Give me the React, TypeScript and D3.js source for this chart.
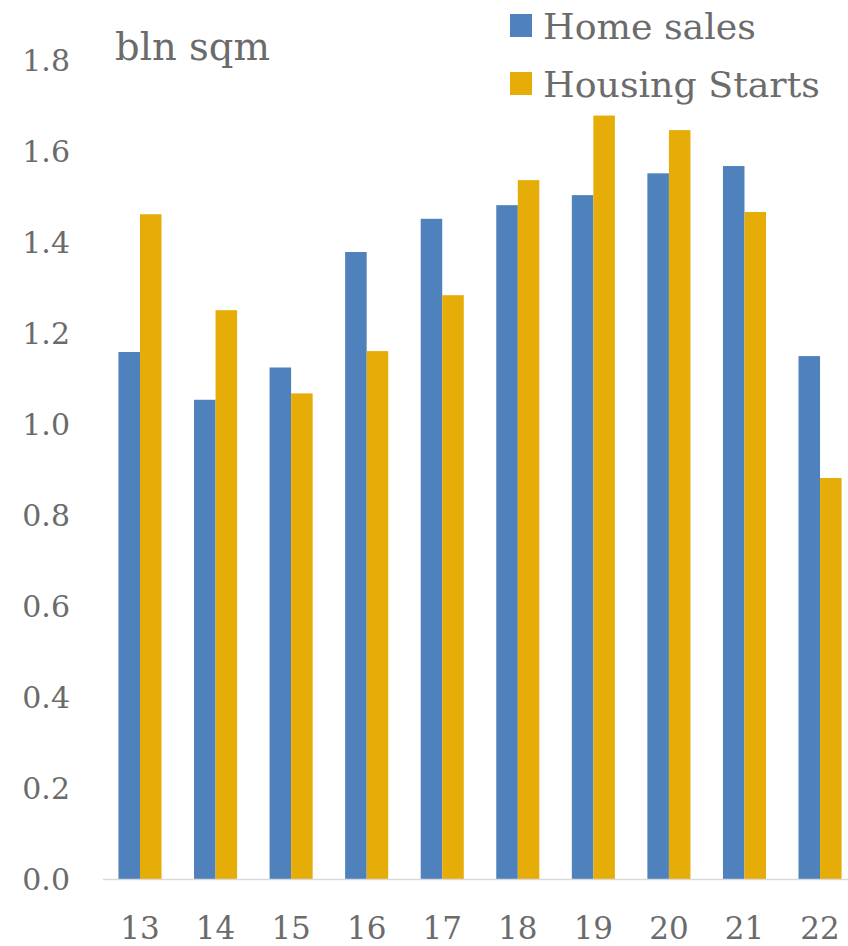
import React from "react";
import * as d3 from "d3";

const categories = ["13", "14", "15", "16", "17", "18", "19", "20", "21", "22"];
const homeSales = [1.16, 1.055, 1.126, 1.38, 1.453, 1.483, 1.505, 1.553, 1.569, 1.151];
const housingStarts = [1.463, 1.252, 1.069, 1.162, 1.285, 1.538, 1.68, 1.648, 1.468, 0.883];
const seriesNames = ["Home sales", "Housing Starts"];
const seriesColors = ["#4F81BD", "#E6AC07"];
const yTicks = [0, 0.2, 0.4, 0.6, 0.8, 1.0, 1.2, 1.4, 1.6, 1.8];
const unitLabel = "bln sqm";

const W = 848;
const H = 946;
const FONT = "'DejaVu Serif', serif";
const TEXT = "#6B6B6B";

export default function App() {
  const step = 75.56;
  const x = d3
    .scaleBand<string>()
    .domain(categories)
    .range([140 - step / 2, 140 + step * 9 + step / 2])
    .paddingInner(0.43)
    .paddingOuter(0.215);
  const sub = d3.scaleBand<number>().domain([0, 1]).range([0, x.bandwidth()]).padding(0);
  const y = d3.scaleLinear().domain([0, 1.8]).range([879.5, 61]);
  const series = [homeSales, housingStarts];

  return (
    <svg
      width={W}
      height={H}
      style={{ position: "absolute", left: 0, top: 0, background: "#fff" }}
      fontFamily={FONT}
    >
      {categories.map((c, i) =>
        series.map((s, si) => (
          <rect
            key={c + si}
            x={(x(c) as number) + (sub(si) as number)}
            y={y(s[i])}
            width={sub.bandwidth()}
            height={y(0) - y(s[i])}
            fill={seriesColors[si]}
          />
        ))
      )}
      <line x1={103} x2={W} y1={y(0)} y2={y(0)} stroke="#D9D9D9" strokeWidth={1.5} />
      {yTicks.map((t) => (
        <text
          key={t}
          x={70}
          y={y(t) + 10}
          textAnchor="end"
          fontSize={30}
          fill={TEXT}
        >
          {d3.format(".1f")(t)}
        </text>
      ))}
      {categories.map((c) => (
        <text
          key={c}
          x={(x(c) as number) + x.bandwidth() / 2}
          y={939}
          textAnchor="middle"
          fontSize={31}
          fill={TEXT}
        >
          {c}
        </text>
      ))}
      <text x={115} y={60} fontSize={38.5} fill={TEXT}>
        {unitLabel}
      </text>
      {seriesNames.map((n, i) => (
        <g key={n}>
          <rect x={510} y={14 + i * 58} width={22} height={23} fill={seriesColors[i]} />
          <text x={543} y={39 + i * 58} fontSize={36.3} fill={TEXT}>
            {n}
          </text>
        </g>
      ))}
    </svg>
  );
}
